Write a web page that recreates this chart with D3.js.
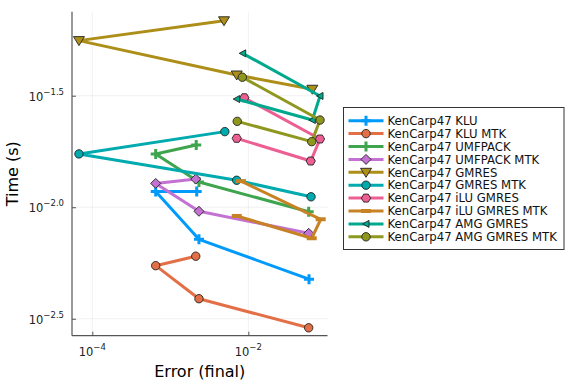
<!DOCTYPE html>
<html>
<head>
<meta charset="utf-8">
<script src="https://cdn.jsdelivr.net/npm/d3@7"></script>
<style>
body { margin: 0; background: #fff; }
text { font-family: "DejaVu Sans", sans-serif; }
</style>
</head>
<body>
<svg id="chart" width="576" height="384"></svg>
<script>
// series names, colours and marker shapes
const seriesNames = [
    'KenCarp47 KLU', 'KenCarp47 KLU MTK', 'KenCarp47 UMFPACK', 'KenCarp47 UMFPACK MTK',
    'KenCarp47 GMRES', 'KenCarp47 GMRES MTK', 'KenCarp47 iLU GMRES', 'KenCarp47 iLU GMRES MTK',
    'KenCarp47 AMG GMRES', 'KenCarp47 AMG GMRES MTK'
];
const seriesColors = ['#009afa', '#e36f47', '#3ea44e', '#c371d2', '#ac8e18',
                      '#00aaae', '#ed5e93', '#c68225', '#00a98d', '#8e971e'];
const seriesMarkers = ['cross', 'circle', 'cross', 'diamond', 'dtriangle',
                       'circle', 'hexagon', 'hline', 'ltriangle', 'circle'];

// error (final) and time (s) per series
const errKLU = [2.18e-3, 6.50e-4, 2.33e-3, 0.0600];
const timeKLU = [0.01175, 0.01175, 0.00718, 0.00476];
const errKLUMTK = [2.12e-3, 6.50e-4, 2.33e-3, 0.0594];
const timeKLUMTK = [0.00603, 0.00547, 0.00389, 0.00288];
const errUMFPACK = [2.15e-3, 6.50e-4, 2.33e-3, 0.0594];
const timeUMFPACK = [0.01901, 0.01734, 0.01297, 0.00955];
const errUMFPACKMTK = [2.12e-3, 6.50e-4, 2.33e-3, 0.0594];
const timeUMFPACKMTK = [0.01337, 0.01279, 0.00959, 0.00764];
const errGMRES = [4.88e-3, 6.75e-5, 7.10e-3, 0.0662];
const timeGMRES = [0.06855, 0.05585, 0.03917, 0.03381];
const errGMRESMTK = [5.00e-3, 6.75e-5, 7.10e-3, 0.0637];
const timeGMRESMTK = [0.02183, 0.01734, 0.01321, 0.01114];
const erriLUGMRES = [8.89e-3, 0.0830, 0.0631, 7.10e-3];
const timeiLUGMRES = [0.03097, 0.02023, 0.01611, 0.02037];
const erriLUGMRESMTK = [8.05e-3, 0.0847, 0.0650, 7.10e-3];
const timeiLUGMRESMTK = [0.01309, 0.00883, 0.00726, 0.00914];
const errAMGGMRES = [8.47e-3, 0.0830, 0.0662, 7.10e-3];
const timeAMGGMRES = [0.04898, 0.03155, 0.02460, 0.03055];
const errAMGGMRESMTK = [8.38e-3, 0.0830, 0.0650, 7.21e-3];
const timeAMGGMRESMTK = [0.03828, 0.02460, 0.01968, 0.02427];

const xTicks = [1e-4, 1e-2];
const xTickExp = ['−4', '−2'];
const yTicks = [Math.pow(10, -2.5), Math.pow(10, -2.0), Math.pow(10, -1.5)];
const yTickExp = ['−2.5', '−2.0', '−1.5'];

const errs = [errKLU, errKLUMTK, errUMFPACK, errUMFPACKMTK, errGMRES,
              errGMRESMTK, erriLUGMRES, erriLUGMRESMTK, errAMGGMRES, errAMGGMRESMTK];
const times = [timeKLU, timeKLUMTK, timeUMFPACK, timeUMFPACKMTK, timeGMRES,
               timeGMRESMTK, timeiLUGMRES, timeiLUGMRESMTK, timeAMGGMRES, timeAMGGMRESMTK];

const series = seriesNames.map((name, i) => ({
    name: name,
    color: seriesColors[i],
    marker: seriesMarkers[i],
    points: errs[i].map((e, j) => ({x: e, y: times[i][j]}))
}));

const plot = {left: 72, right: 327.5, top: 11.7, bottom: 335.7};

const svg = d3.select('#chart');

const xscale = d3.scaleLog()
    .domain([Math.pow(10, -4.26), Math.pow(10, -0.985)])
    .range([plot.left, plot.right]);
const yscale = d3.scaleLog()
    .domain([Math.pow(10, -2.576), Math.pow(10, -1.1233)])
    .range([plot.bottom, plot.top]);

// grid lines
const grid = svg.append('g');
grid.selectAll('.gx').data(xTicks).enter().append('line')
    .attr('x1', d => xscale(d)).attr('x2', d => xscale(d))
    .attr('y1', plot.top).attr('y2', plot.bottom)
    .attr('stroke', '#000').attr('stroke-opacity', 0.1).attr('stroke-width', 0.6);
grid.selectAll('.gy').data(yTicks).enter().append('line')
    .attr('y1', d => yscale(d)).attr('y2', d => yscale(d))
    .attr('x1', plot.left).attr('x2', plot.right)
    .attr('stroke', '#000').attr('stroke-opacity', 0.1).attr('stroke-width', 0.6);

// axes
const xaxis = d3.axisBottom(xscale).tickValues(xTicks).tickSize(-4).tickFormat('');
const yaxis = d3.axisLeft(yscale).tickValues(yTicks).tickSize(-4).tickFormat('');
const xg = svg.append('g').attr('transform', `translate(0, ${plot.bottom})`).call(xaxis);
const yg = svg.append('g').attr('transform', `translate(${plot.left}, 0)`).call(yaxis);
[xg, yg].forEach(g => {
    g.select('.domain').attr('stroke', '#555').attr('stroke-width', 1.2)
        .attr('d', g === xg ? `M${plot.left},0H${plot.right}` : `M0,${plot.top}V${plot.bottom}`);
    g.selectAll('.tick line').attr('stroke', '#555');
});

// tick labels with exponents
xTicks.forEach((t, i) => {
    const txt = svg.append('text')
        .attr('x', xscale(t)).attr('y', 356)
        .attr('text-anchor', 'middle').attr('font-size', 11.5).attr('fill', '#222');
    txt.append('tspan').text('10');
    txt.append('tspan').attr('dy', -6).attr('font-size', 8.5).text(xTickExp[i]);
});
yTicks.forEach((t, i) => {
    const txt = svg.append('text')
        .attr('x', 64).attr('y', yscale(t) + 5)
        .attr('text-anchor', 'end').attr('font-size', 11.5).attr('fill', '#222');
    txt.append('tspan').text('10');
    txt.append('tspan').attr('dy', -6).attr('font-size', 8.5).text(yTickExp[i]);
});

// axis titles
svg.append('text').attr('x', (plot.left + plot.right) / 2).attr('y', 377)
    .attr('text-anchor', 'middle').attr('font-size', 16).text('Error (final)');
svg.append('text')
    .attr('transform', `translate(18, ${(plot.top + plot.bottom) / 2}) rotate(-90)`)
    .attr('text-anchor', 'middle').attr('font-size', 16).text('Time (s)');

// marker shapes
function markerPath(kind) {
    switch (kind) {
    case 'circle': return d3.symbol(d3.symbolCircle, Math.PI * 4.2 * 4.2)();
    case 'cross': return 'M-5,0H5M0,-5V5';
    case 'diamond': return 'M0,-5L5,0L0,5L-5,0Z';
    case 'dtriangle': return 'M-5.5,-4L5.5,-4L0,5Z';
    case 'ltriangle': return 'M-3.5,0L3,-3.5L3,3.5Z';
    case 'hline': return 'M-5,-2H5V2H-5Z';
    case 'hexagon': {
        const pts = d3.range(6).map(k => {
            const a = Math.PI / 3 * k;
            return [4.6 * Math.cos(a), 4.6 * Math.sin(a)];
        });
        return 'M' + pts.join('L') + 'Z';
    }
    }
}

function drawMarker(g, kind, color) {
    const p = g.append('path').attr('d', markerPath(kind));
    if (kind === 'cross') {
        p.attr('fill', 'none').attr('stroke', color).attr('stroke-width', 3);
    } else if (kind === 'hline') {
        p.attr('fill', color).attr('stroke', 'none');
    } else {
        p.attr('fill', color).attr('stroke', '#222').attr('stroke-width', 0.9);
    }
}

// series
const line = d3.line().x(d => xscale(d.x)).y(d => yscale(d.y));
const plotArea = svg.append('g');
series.forEach(s => {
    const g = plotArea.append('g');
    g.append('path')
        .attr('d', line(s.points))
        .attr('fill', 'none')
        .attr('stroke', s.color)
        .attr('stroke-width', 3)
        .attr('stroke-linejoin', 'round');
    s.points.forEach(p => {
        const m = g.append('g').attr('transform', `translate(${xscale(p.x)}, ${yscale(p.y)})`);
        drawMarker(m, s.marker, s.color);
    });
});

// legend
const legend = svg.append('g');
legend.append('rect')
    .attr('x', 343.5).attr('y', 107.5).attr('width', 220.5).attr('height', 142)
    .attr('fill', '#fff').attr('stroke', '#333').attr('stroke-width', 1);
series.forEach((s, i) => {
    const y = 120.7 + i * 12.9;
    legend.append('line')
        .attr('x1', 348.5).attr('x2', 383.5).attr('y1', y).attr('y2', y)
        .attr('stroke', s.color).attr('stroke-width', 3);
    const m = legend.append('g').attr('transform', `translate(366, ${y})`);
    drawMarker(m, s.marker, s.color);
    legend.append('text')
        .attr('x', 387.5).attr('y', y + 4.2)
        .attr('font-size', 11.7).attr('fill', '#111')
        .text(s.name);
});
</script>
</body>
</html>
